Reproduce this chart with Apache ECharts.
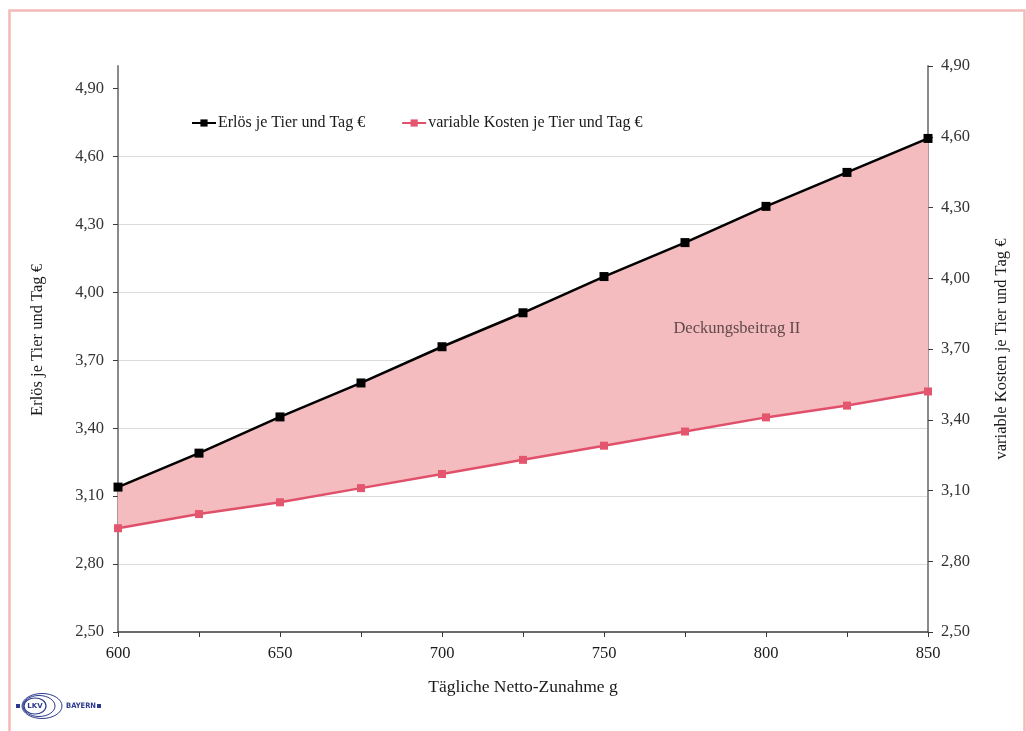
<!DOCTYPE html>
<html>
<head>
<meta charset="utf-8">
<script src="https://cdn.jsdelivr.net/npm/echarts@6/dist/echarts.min.js"></script>
<style>
  html, body { margin: 0; padding: 0; background: #ffffff; }
  #chart { width: 1026px; height: 731px; }
</style>
</head>
<body>
<div id="chart"></div>
<script>
// Daily net gain (g) on the x axis
const zunahme = [600, 625, 650, 675, 700, 725, 750, 775, 800, 825, 850];
// Revenue per animal and day (EUR), left axis
const erloes = [3.14, 3.29, 3.45, 3.60, 3.76, 3.91, 4.07, 4.22, 4.38, 4.53, 4.68];
// Variable costs per animal and day (EUR), right axis
const varKosten = [2.94, 3.00, 3.05, 3.11, 3.17, 3.23, 3.29, 3.35, 3.41, 3.46, 3.52];
// Axis tick labels
const xLabels = [600, 650, 700, 750, 800, 850];
const yTicks = [2.5, 2.8, 3.1, 3.4, 3.7, 4.0, 4.3, 4.6, 4.9];
// Position of the contribution margin caption (data coords, left axis)
const dbLabel = [[791, 3.84]];

const FONT = 'Liberation Serif';
const fmt = v => v.toFixed(2).replace('.', ',');

const chart = echarts.init(document.getElementById('chart'), null, { renderer: 'canvas' });

// Band between revenue (left axis) and variable costs (right axis)
function renderBand(params, api) {
  const i = params.dataIndex;
  if (i >= zunahme.length - 1) return null;
  const a = api.coord([zunahme[i], erloes[i]]);
  const b = api.coord([zunahme[i + 1], erloes[i + 1]]);
  const yr1 = chart.convertToPixel({ yAxisIndex: 1 }, varKosten[i]);
  const yr2 = chart.convertToPixel({ yAxisIndex: 1 }, varKosten[i + 1]);
  return {
    type: 'polygon',
    shape: { points: [a, b, [b[0], yr2], [a[0], yr1]] },
    style: { fill: '#f4bcbf', stroke: '#f4bcbf', lineWidth: 0.6 }
  };
}

const option = {
  backgroundColor: '#ffffff',
  animation: false,
  textStyle: { fontFamily: FONT },
  grid: { left: 118, right: 98, top: 66, bottom: 99 },
  legend: {
    data: ['Erlös je Tier und Tag €', 'variable Kosten je Tier und Tag €'],
    left: 186,
    top: 110,
    itemGap: 36,
    itemWidth: 24,
    itemHeight: 9,
    textStyle: { fontFamily: FONT, fontSize: 16, color: '#1a1a1a', padding: [0, 0, 0, -3] }
  },
  xAxis: {
    type: 'value',
    min: 600,
    max: 850,
    interval: 25,
    name: 'Tägliche Netto-Zunahme g',
    nameLocation: 'middle',
    nameGap: 46,
    nameTextStyle: { fontFamily: FONT, fontSize: 17.5, color: '#1a1a1a' },
    axisLine: { lineStyle: { color: '#3a3a3a', width: 1.5 } },
    axisTick: { show: true, length: 5, customValues: zunahme, lineStyle: { color: '#3a3a3a' } },
    axisLabel: {
      customValues: xLabels,
      margin: 13,
      fontFamily: FONT, fontSize: 16.5, color: '#1a1a1a',
      formatter: v => String(v)
    },
    splitLine: { show: false }
  },
  yAxis: [
    {
      type: 'value',
      min: 2.5,
      max: 5.0,
      interval: 0.3,
      position: 'left',
      name: 'Erlös je Tier und Tag €',
      nameLocation: 'middle',
      nameRotate: 90,
      nameGap: 72,
      nameTextStyle: { fontFamily: FONT, fontSize: 16.5, color: '#1a1a1a', padding: [0, 0, 0, 18] },
      axisLine: { show: true, lineStyle: { color: '#8a8a8a', width: 2 } },
      axisTick: { show: true, length: 5, customValues: yTicks, lineStyle: { color: '#3a3a3a' } },
      axisLabel: {
        customValues: yTicks,
        margin: 14,
        fontFamily: FONT, fontSize: 16.5, color: '#333333',
        formatter: v => fmt(v)
      },
      splitLine: { show: true, showMaxLine: false, showMinLine: false, lineStyle: { color: '#dcdcdc', width: 1 } }
    },
    {
      type: 'value',
      min: 2.5,
      max: 4.9,
      interval: 0.3,
      position: 'right',
      name: 'variable Kosten je Tier und Tag €',
      nameLocation: 'middle',
      nameRotate: 90,
      nameGap: 65,
      nameTextStyle: { fontFamily: FONT, fontSize: 16.5, color: '#1a1a1a' },
      axisLine: { show: true, lineStyle: { color: '#8a8a8a', width: 2 } },
      axisTick: { show: true, length: 5, lineStyle: { color: '#3a3a3a' } },
      axisLabel: {
        margin: 13,
        fontFamily: FONT, fontSize: 16.5, color: '#333333',
        formatter: v => fmt(v)
      },
      splitLine: { show: false }
    }
  ],
  series: [
    {
      name: 'Deckungsbeitrag',
      type: 'custom',
      xAxisIndex: 0,
      yAxisIndex: 0,
      z: 1,
      silent: true,
      renderItem: renderBand,
      data: zunahme.map((x, i) => [x, erloes[i]])
    },
    {
      name: 'Erlös je Tier und Tag €',
      type: 'line',
      yAxisIndex: 0,
      z: 4,
      data: zunahme.map((x, i) => [x, erloes[i]]),
      symbol: 'rect',
      symbolSize: 9,
      showAllSymbol: true,
      lineStyle: { color: '#000000', width: 2.5 },
      itemStyle: { color: '#000000' }
    },
    {
      name: 'variable Kosten je Tier und Tag €',
      type: 'line',
      yAxisIndex: 1,
      z: 3,
      data: zunahme.map((x, i) => [x, varKosten[i]]),
      symbol: 'rect',
      symbolSize: 8,
      showAllSymbol: true,
      lineStyle: { color: '#e0506a', width: 2.5 },
      itemStyle: { color: '#e4566e' }
    },
    {
      name: 'DB-Text',
      type: 'scatter',
      yAxisIndex: 0,
      z: 5,
      silent: true,
      symbolSize: 0,
      data: dbLabel,
      label: {
        show: true,
        position: 'inside',
        formatter: 'Deckungsbeitrag II',
        fontFamily: FONT,
        fontSize: 16.5,
        color: '#3a2a2a'
      }
    }
  ],
  graphic: [
    {
      type: 'rect',
      silent: true,
      z: 100,
      shape: { x: 9.5, y: 10.5, width: 1015, height: 740 },
      style: { fill: null, stroke: '#f5b9b9', lineWidth: 2.5 }
    },
    {
      type: 'group',
      x: 0,
      y: 0,
      silent: true,
      children: [
        { type: 'rect', shape: { x: 16, y: 704, width: 4, height: 4 }, style: { fill: '#2b3a8c' } },
        { type: 'ellipse', shape: { cx: 42, cy: 706, rx: 20, ry: 12.5 }, style: { fill: null, stroke: '#2b3a8c', lineWidth: 1 } },
        { type: 'ellipse', shape: { cx: 39, cy: 706, rx: 16, ry: 10.5 }, style: { fill: null, stroke: '#2b3a8c', lineWidth: 1 } },
        { type: 'ellipse', shape: { cx: 35, cy: 706, rx: 11, ry: 8 }, style: { fill: '#ffffff', stroke: '#2b3a8c', lineWidth: 1.2 } },
        { type: 'text', style: { x: 35, y: 706, text: 'LKV', fontSize: 7, fontWeight: 'bold', fill: '#2b3a8c', align: 'center', verticalAlign: 'middle', fontFamily: 'DejaVu Sans' } },
        { type: 'text', style: { x: 66, y: 706, text: 'BAYERN', fontSize: 7.5, fontWeight: 'bold', fill: '#2b3a8c', verticalAlign: 'middle', fontFamily: 'DejaVu Sans Condensed, DejaVu Sans' } },
        { type: 'rect', shape: { x: 97, y: 704, width: 4, height: 4 }, style: { fill: '#2b3a8c' } }
      ]
    }
  ]
};

chart.setOption(option);
</script>
</body>
</html>
